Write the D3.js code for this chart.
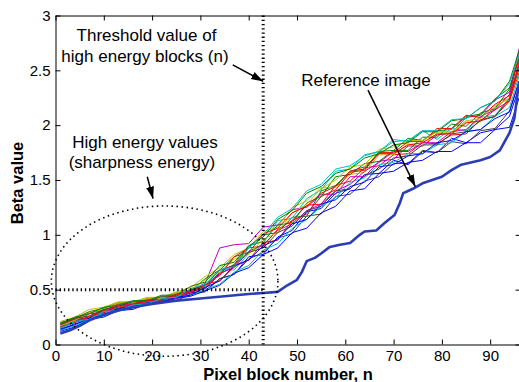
<!DOCTYPE html>
<html>
<head>
<meta charset="utf-8">
<script src="https://cdn.jsdelivr.net/npm/d3@7/dist/d3.min.js"></script>
<style>
  html, body { margin: 0; padding: 0; background: #fff; }
  svg { display: block; }
  text { font-family: "Liberation Sans", Arial, Helvetica, sans-serif; fill: #000; }
</style>
</head>
<body>
<svg id="chart" width="519" height="382"></svg>
<script>
// Pixel block numbers at which every test image curve is sampled
const blockX = [1,4,7,10,13,16,19,22,25,28,31,34,37,40,43,46,49,52,55,58,61,64,67,70,73,76,79,82,85,88,91,94,96];

// Beta values of the test images (one array per image)
const beta01 = [.13,.19,.22,.28,.31,.35,.37,.41,.42,.47,.49,.60,.64,.80,.82,.98,1.04,1.21,1.24,1.38,1.42,1.55,1.56,1.68,1.64,1.76,1.75,1.88,1.84,1.93,1.96,2.08,2.35];
const beta02 = [.20,.24,.30,.33,.38,.38,.42,.43,.47,.49,.60,.68,.80,.84,1.00,1.02,1.16,1.17,1.40,1.45,1.58,1.60,1.76,1.77,1.88,1.86,1.95,1.96,2.08,2.10,2.24,2.34,2.62];
const beta03 = [.17,.23,.24,.32,.34,.38,.38,.43,.43,.49,.51,.64,.72,.88,.90,1.05,1.13,1.27,1.28,1.45,1.49,1.61,1.63,1.73,1.74,1.84,1.83,1.91,1.92,2.05,2.08,2.22,2.48];
const beta04 = [.14,.20,.23,.29,.30,.36,.36,.41,.42,.48,.53,.68,.68,.83,.92,1.13,1.15,1.33,1.41,1.58,1.60,1.73,1.76,1.87,1.85,1.95,1.87,1.97,1.95,2.07,2.09,2.25,2.55];
const beta05 = [.18,.21,.28,.29,.36,.36,.40,.40,.46,.49,.56,.88,.91,.92,1.07,1.09,1.23,1.25,1.37,1.37,1.53,1.53,1.67,1.69,1.81,1.81,1.91,1.93,2.07,2.09,2.23,2.30,2.70];
const beta06 = [.21,.25,.32,.34,.39,.39,.43,.43,.48,.52,.62,.70,.82,.88,1.03,1.07,1.25,1.31,1.43,1.43,1.55,1.57,1.73,1.73,1.83,1.81,1.93,1.93,2.03,2.03,2.17,2.25,2.58];
const beta07 = [.15,.21,.23,.30,.32,.36,.36,.40,.40,.46,.48,.60,.64,.78,.84,.97,1.01,1.17,1.19,1.35,1.37,1.49,1.53,1.65,1.65,1.77,1.75,1.85,1.83,1.95,1.97,2.13,2.40];
const beta08 = [.12,.16,.23,.25,.31,.32,.37,.38,.42,.44,.49,.54,.65,.70,.82,.88,1.02,1.06,1.20,1.26,1.40,1.42,1.56,1.58,1.66,1.68,1.76,1.76,1.84,1.84,1.96,1.98,2.25];
const beta09 = [.16,.22,.25,.31,.33,.37,.37,.42,.43,.50,.52,.66,.73,.90,.94,1.09,1.11,1.29,1.35,1.53,1.55,1.65,1.67,1.77,1.77,1.89,1.89,2.01,1.99,2.11,2.15,2.33,2.60];
const beta10 = [.19,.23,.29,.31,.37,.37,.41,.41,.46,.48,.55,.58,.71,.77,.93,.95,1.13,1.19,1.35,1.41,1.57,1.59,1.75,1.75,1.85,1.85,1.97,1.97,2.09,2.07,2.19,2.27,2.65];
const beta11 = [.13,.17,.23,.26,.32,.33,.38,.39,.44,.45,.50,.55,.66,.72,.86,.92,1.06,1.14,1.26,1.34,1.48,1.52,1.64,1.66,1.74,1.74,1.82,1.84,1.94,1.96,2.08,2.16,2.45];
const beta12 = [.15,.21,.24,.30,.32,.37,.37,.42,.42,.48,.51,.65,.70,.85,.91,1.04,1.10,1.22,1.28,1.40,1.46,1.58,1.66,1.76,1.76,1.84,1.84,1.94,1.96,2.08,2.14,2.28,2.55];
const beta13 = [.17,.22,.29,.32,.38,.38,.42,.42,.47,.50,.59,.66,.78,.82,.96,1.02,1.20,1.28,1.42,1.50,1.62,1.64,1.78,1.80,1.86,1.86,1.94,1.94,2.04,2.06,2.18,2.24,2.50];
const beta14 = [.18,.24,.26,.32,.35,.39,.39,.44,.44,.50,.54,.68,.72,.84,.88,1.02,1.08,1.22,1.26,1.40,1.42,1.54,1.60,1.70,1.72,1.82,1.82,1.92,1.94,2.04,2.08,2.24,2.52];
const beta15 = [.14,.18,.24,.27,.33,.34,.38,.39,.43,.45,.52,.58,.72,.77,.90,.96,1.10,1.14,1.28,1.32,1.44,1.48,1.62,1.64,1.72,1.74,1.84,1.86,1.94,1.96,2.06,2.12,2.40];
const beta16 = [.19,.25,.28,.34,.36,.40,.40,.45,.45,.53,.57,.72,.75,.90,.98,1.14,1.22,1.38,1.44,1.56,1.60,1.70,1.74,1.82,1.84,1.94,1.94,2.04,2.06,2.16,2.22,2.40,2.68];
const beta17 = [.16,.20,.26,.29,.35,.36,.40,.41,.45,.47,.54,.63,.80,.88,1.01,1.06,1.20,1.26,1.38,1.44,1.58,1.62,1.74,1.74,1.82,1.84,1.92,1.92,2.02,2.04,2.14,2.22,2.58];
const beta18 = [.15,.21,.23,.30,.31,.36,.37,.42,.43,.51,.55,.68,.71,.88,1.00,1.16,1.24,1.40,1.46,1.60,1.63,1.72,1.76,1.85,1.86,1.95,1.95,2.05,2.06,2.16,2.22,2.38,2.64];

const testSeries = [beta01,beta02,beta03,beta04,beta05,beta06,beta07,beta08,beta09,
                    beta10,beta11,beta12,beta13,beta14,beta15,beta16,beta17,beta18];
const seriesColors = ["#0000ff","#008000","#ff0000","#00bfbf","#bf00bf","#bfbf00","#404040"];

// Reference image curve
const refX    = [1,3,5,7,10,13,16,20,25,30,35,40,43,46,48,50,51,52,53.7,55,56.8,58.9,61,63,64,66.4,68.2,70.2,71.3,72,73,74,76,78,80,82,84,86,88,90,92,93,94,95,96];
const refBeta = [.10,.13,.17,.22,.27,.31,.34,.37,.40,.42,.44,.46,.47,.48,.54,.59,.66,.76,.79,.83,.89,.91,.925,1.00,1.03,1.04,1.11,1.18,1.29,1.38,1.40,1.42,1.47,1.50,1.53,1.59,1.64,1.66,1.68,1.71,1.77,1.85,1.93,2.06,2.40];

// Axis ticks
const xTicks = [0,10,20,30,40,50,60,70,80,90];
const xTickLabels = ["0","10","20","30","40","50","60","70","80","90"];
const yTicks = [0,0.5,1,1.5,2,2.5,3];
const yTickLabels = ["0","0.5","1","1.5","2","2.5","3"];

// Threshold markers
const thresholdBlock = 43;
const thresholdBeta = 0.5;

const svg = d3.select("#chart");
const plotLeft = 55.5, plotRight = 520.6, plotTop = 15.5, plotBottom = 344.5;
const x = d3.scaleLinear().domain([0, 96.3]).range([plotLeft, plotRight]);
const y = d3.scaleLinear().domain([0, 3]).range([plotBottom, plotTop]);

const defs = svg.append("defs");
defs.append("clipPath").attr("id", "plotClip")
  .append("rect").attr("x", plotLeft).attr("y", plotTop)
  .attr("width", plotRight - plotLeft).attr("height", plotBottom - plotTop);

const plot = svg.append("g").attr("clip-path", "url(#plotClip)");

const line = d3.line().x(d => x(d[0])).y(d => y(d[1]));

// Test image curves
testSeries.forEach((vals, i) => {
  plot.append("path")
    .datum(vals.map((v, k) => [blockX[k], v]))
    .attr("d", line)
    .attr("fill", "none")
    .attr("stroke", seriesColors[i % seriesColors.length])
    .attr("stroke-width", 1)
    .attr("stroke-linejoin", "round");
});

// Reference image curve
plot.append("path")
  .datum(refX.map((v, k) => [v, refBeta[k]]))
  .attr("d", line)
  .attr("fill", "none")
  .attr("stroke", "#2a3db4")
  .attr("stroke-width", 2.6)
  .attr("stroke-linejoin", "round");

// Threshold dotted lines
svg.append("line")
  .attr("x1", x(thresholdBlock)).attr("x2", x(thresholdBlock))
  .attr("y1", y(0)).attr("y2", y(3))
  .attr("stroke", "#000").attr("stroke-width", 3)
  .attr("stroke-dasharray", "1.3,2.9");
svg.append("line")
  .attr("x1", x(0)).attr("x2", x(thresholdBlock))
  .attr("y1", y(thresholdBeta)).attr("y2", y(thresholdBeta))
  .attr("stroke", "#000").attr("stroke-width", 3)
  .attr("stroke-dasharray", "1.3,2.9");

// Dotted ellipse around the high energy region
const ell = { cx: 22.6, cy: 0.578, rx: 23.46, ry: 0.685 };
svg.append("ellipse")
  .attr("cx", x(ell.cx)).attr("cy", y(ell.cy))
  .attr("rx", x(ell.cx + ell.rx) - x(ell.cx))
  .attr("ry", y(0) - y(ell.ry))
  .attr("fill", "none").attr("stroke", "#000")
  .attr("stroke-width", 1.6).attr("stroke-dasharray", "1.5,3.5");

// Axes: ticks point inward on all four sides
const fontSize = "15px";
function styleAxis(g) {
  g.select(".domain").attr("stroke", "#000").attr("stroke-width", 1);
  g.selectAll(".tick line").attr("stroke", "#000").attr("stroke-width", 1);
  g.selectAll("text").attr("font-family", '"Liberation Sans", Arial, sans-serif')
    .attr("font-size", fontSize).attr("fill", "#000");
  g.attr("font-family", null).attr("font-size", null);
}

svg.append("g").attr("transform", `translate(0,${plotBottom})`)
  .call(d3.axisBottom(x).tickValues(xTicks).tickFormat((d, i) => xTickLabels[i])
    .tickSizeInner(-5).tickSizeOuter(0).tickPadding(6))
  .call(styleAxis);
svg.append("g").attr("transform", `translate(0,${plotTop})`)
  .call(d3.axisTop(x).tickValues(xTicks).tickFormat("")
    .tickSizeInner(-5).tickSizeOuter(0))
  .call(styleAxis);
svg.append("g").attr("transform", `translate(${plotLeft},0)`)
  .call(d3.axisLeft(y).tickValues(yTicks).tickFormat((d, i) => yTickLabels[i])
    .tickSizeInner(-5).tickSizeOuter(0).tickPadding(5))
  .call(styleAxis);
svg.append("g").attr("transform", `translate(${plotRight},0)`)
  .call(d3.axisRight(y).tickValues(yTicks).tickFormat("")
    .tickSizeInner(-5).tickSizeOuter(0))
  .call(styleAxis);

// Axis titles
svg.append("text")
  .attr("x", (plotLeft + plotRight) / 2).attr("y", 379.5)
  .attr("text-anchor", "middle").attr("font-size", "16.5px").attr("font-weight", "bold")
  .text("Pixel block number, n");
svg.append("text")
  .attr("transform", `translate(23,${(plotTop + plotBottom) / 2 + 3}) rotate(-90)`)
  .attr("text-anchor", "middle").attr("font-size", "16.5px").attr("font-weight", "bold")
  .text("Beta value");

// Annotations
const marker = defs.append("marker")
  .attr("id", "arrowHead").attr("markerUnits", "userSpaceOnUse")
  .attr("markerWidth", 12).attr("markerHeight", 10)
  .attr("viewBox", "0 0 12 10").attr("refX", 12).attr("refY", 5)
  .attr("orient", "auto");
marker.append("path").attr("d", "M0,1 L12,5 L0,9 Z").attr("fill", "#000");

const notes = [
  { text: "Threshold value of",     bx: 18.84, by: 2.77 },
  { text: "high energy blocks (n)", bx: 18.53, by: 2.575 },
  { text: "High energy values",     bx: 18.53, by: 1.79 },
  { text: "(sharpness energy)",     bx: 17.9,  by: 1.605 },
  { text: "Reference image",        bx: 64.3,  by: 2.355 }
];
notes.forEach(n => {
  svg.append("text")
    .attr("x", x(n.bx)).attr("y", y(n.by))
    .attr("text-anchor", "middle").attr("font-size", "17px")
    .text(n.text);
});

const arrows = [
  { x1: 36.7, y1: 2.55, x2: 43,   y2: 2.40 },
  { x1: 19.0, y1: 1.53, x2: 20.2, y2: 1.33 },
  { x1: 64.7, y1: 2.32, x2: 74.5, y2: 1.44 }
];
arrows.forEach(a => {
  svg.append("line")
    .attr("x1", x(a.x1)).attr("y1", y(a.y1))
    .attr("x2", x(a.x2)).attr("y2", y(a.y2))
    .attr("stroke", "#000").attr("stroke-width", 1.5)
    .attr("marker-end", "url(#arrowHead)");
});
</script>
</body>
</html>
